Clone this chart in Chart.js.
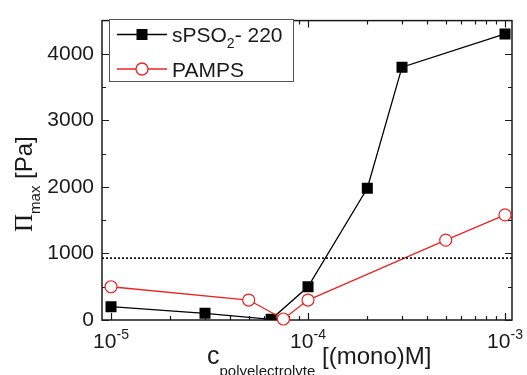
<!DOCTYPE html>
<html>
<head>
<meta charset="utf-8">
<script src="https://cdn.jsdelivr.net/npm/chart.js@4"></script>
<style>
  body { margin: 0; background: #fff; }
  canvas { display: block; }
</style>
</head>
<body>
<canvas id="chart" width="527" height="375"></canvas>
<script>
// data
const sPsoX = [1e-5, 3e-5, 6.5e-5, 1e-4, 2e-4, 3e-4, 1e-3];
const sPsoY = [200, 100, 10, 500, 1980, 3800, 4300];
const pampsX = [1e-5, 5e-5, 7.5e-5, 1e-4, 5e-4, 1e-3];
const pampsY = [500, 300, 15, 300, 1200, 1580];
const thresholdY = 930;

const xRange = [9e-6, 1.085e-3];
const yRange = [0, 4500];
const xMajor = [1e-5, 1e-4, 1e-3];
const xTickLabels = [['10', '-5'], ['10', '-4'], ['10', '-3']];
const yMajor = [0, 1000, 2000, 3000, 4000];
const yTickLabels = ['0', '1000', '2000', '3000', '4000'];
const yMinor = [500, 1500, 2500, 3500];

const FONT = '"Liberation Sans", Arial, sans-serif';
const INK = '#1a1a1a';
const RED = 'rgb(235, 35, 35)';

// minor ticks of the log axis: 2..9 in each decade
const xMinor = [];
[1e-5, 1e-4].forEach(d => { for (let m = 2; m <= 9; m++) xMinor.push(m * d); });

function toPoints(xs, ys) {
    return xs.map((x, i) => ({ x: x, y: ys[i] }));
}

// draws a run of text pieces (sub/superscripts) starting at x, baseline y
function richText(ctx, parts, x, y, align) {
    let width = 0;
    parts.forEach(p => {
        ctx.font = p.size + 'px ' + (p.family || FONT);
        width += ctx.measureText(p.t).width;
    });
    let cx = align === 'center' ? x - width / 2 : x;
    parts.forEach(p => {
        ctx.font = p.size + 'px ' + (p.family || FONT);
        ctx.fillText(p.t, cx, y + (p.dy || 0));
        cx += ctx.measureText(p.t).width;
    });
}

const framePlugin = {
    id: 'frame',
    beforeDatasetsDraw(chart) {
        const { ctx, chartArea: a, scales: { x, y } } = chart;
        ctx.save();
        ctx.strokeStyle = INK;
        ctx.lineWidth = 1.5;
        ctx.strokeRect(a.left, a.top, a.right - a.left, a.bottom - a.top);

        ctx.lineWidth = 1.2;
        ctx.beginPath();
        const xTick = (v, len) => {
            const px = Math.round(x.getPixelForValue(v)) + 0.5;
            ctx.moveTo(px, a.bottom); ctx.lineTo(px, a.bottom - len);
            ctx.moveTo(px, a.top); ctx.lineTo(px, a.top + len);
        };
        const yTick = (v, len) => {
            const py = Math.round(y.getPixelForValue(v)) + 0.5;
            ctx.moveTo(a.left, py); ctx.lineTo(a.left + len, py);
            ctx.moveTo(a.right, py); ctx.lineTo(a.right - len, py);
        };
        xMajor.forEach(v => xTick(v, 7));
        xMinor.forEach(v => xTick(v, 4));
        yMajor.forEach(v => yTick(v, 7));
        yMinor.forEach(v => yTick(v, 4));
        ctx.stroke();
        ctx.restore();
    },
    afterDraw(chart) {
        const { ctx, scales: { x } } = chart;
        ctx.save();
        ctx.fillStyle = INK;
        ctx.textBaseline = 'alphabetic';
        ctx.textAlign = 'left';

        // x tick labels with superscripts
        xMajor.forEach((v, i) => {
            richText(ctx, [
                { t: xTickLabels[i][0], size: 21 },
                { t: xTickLabels[i][1], size: 14, dy: -9 }
            ], x.getPixelForValue(v), 348, 'center');
        });

        // x axis title
        richText(ctx, [
            { t: 'c', size: 25 },
            { t: 'polyelectrolyte', size: 15, dy: 12 },
            { t: ' [(mono)M]', size: 24 }
        ], 207, 364, 'left');

        // y axis title, rotated
        ctx.save();
        ctx.translate(32, 232);
        ctx.rotate(-Math.PI / 2);
        richText(ctx, [
            { t: 'Π', size: 25, family: '"Liberation Serif", "Times New Roman", serif' },
            { t: 'max', size: 15, dy: 8 },
            { t: ' [Pa]', size: 24 }
        ], 0, 0, 'left');
        ctx.restore();

        // legend box
        ctx.fillStyle = '#fff';
        ctx.fillRect(109, 19, 184, 62);
        ctx.strokeStyle = '#555';
        ctx.lineWidth = 1;
        ctx.strokeRect(109.5, 19.5, 184, 62);

        ctx.lineWidth = 1.3;
        ctx.strokeStyle = '#000';
        ctx.beginPath(); ctx.moveTo(117, 34.5); ctx.lineTo(167, 34.5); ctx.stroke();
        ctx.fillStyle = '#000';
        ctx.fillRect(136.5, 29, 11, 11);

        ctx.strokeStyle = RED;
        ctx.beginPath(); ctx.moveTo(117, 69); ctx.lineTo(167, 69); ctx.stroke();
        ctx.fillStyle = '#fff';
        ctx.beginPath(); ctx.arc(142, 69, 6, 0, Math.PI * 2); ctx.fill(); ctx.stroke();

        ctx.fillStyle = INK;
        richText(ctx, [
            { t: 'sPSO', size: 21 },
            { t: '2', size: 14, dy: 6 },
            { t: '- 220', size: 21 }
        ], 172, 42, 'left');
        richText(ctx, [{ t: 'PAMPS', size: 21 }], 172, 76.5, 'left');
        ctx.restore();
    }
};

new Chart(document.getElementById('chart'), {
    type: 'line',
    data: {
        datasets: [
            {
                label: 'threshold',
                data: toPoints(xRange, [thresholdY, thresholdY]),
                borderColor: '#111',
                borderWidth: 1.6,
                borderDash: [2, 2],
                pointRadius: 0
            },
            {
                label: 'PAMPS',
                data: toPoints(pampsX, pampsY),
                borderColor: RED,
                borderWidth: 1.3,
                pointStyle: 'circle',
                pointRadius: 6,
                pointBorderWidth: 1.2,
                pointBackgroundColor: '#fff',
                pointBorderColor: RED,
                clip: false
            },
            {
                label: 'sPSO2- 220',
                data: toPoints(sPsoX, sPsoY),
                borderColor: '#000',
                borderWidth: 1.3,
                pointStyle: 'rect',
                pointRadius: 7.8,
                pointBackgroundColor: '#000',
                pointBorderColor: '#000',
                pointBorderWidth: 0
            }
        ]
    },
    options: {
        responsive: false,
        animation: false,
        devicePixelRatio: 1,
        layout: { padding: { top: 14, right: 15, left: 0, bottom: 0 } },
        scales: {
            x: {
                type: 'logarithmic',
                min: xRange[0],
                max: xRange[1],
                grid: { display: false },
                border: { display: false },
                ticks: { display: false },
                afterFit: s => { s.height = 55; }
            },
            y: {
                type: 'linear',
                min: yRange[0],
                max: yRange[1],
                grid: { display: false, drawTicks: false },
                border: { display: false },
                afterBuildTicks: s => { s.ticks = yMajor.map(v => ({ value: v })); },
                ticks: {
                    color: INK,
                    padding: 8,
                    font: { family: FONT, size: 21 },
                    callback: (value, index) => yTickLabels[index]
                },
                afterFit: s => { s.width = 102; }
            }
        },
        plugins: {
            legend: { display: false },
            tooltip: { enabled: false }
        }
    },
    plugins: [framePlugin]
});
</script>
</body>
</html>
